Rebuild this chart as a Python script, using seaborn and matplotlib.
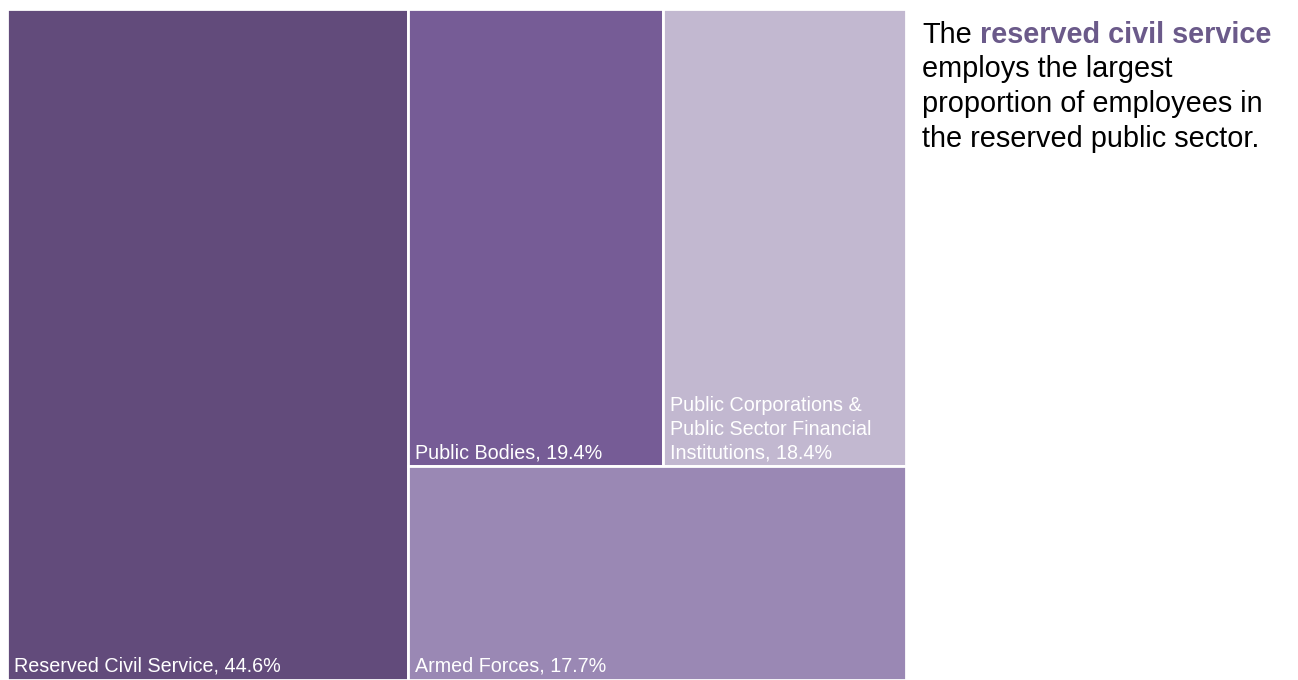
import matplotlib
matplotlib.use("Agg")
import matplotlib.pyplot as plt
import seaborn as sns

sns.set_style("white")
plt.rcParams["font.family"] = ["Liberation Sans", "DejaVu Sans"]

# Share of reserved public-sector employees (%)
categories = ["Reserved Civil Service", "Public Bodies",
              "Public Corporations &\nPublic Sector Financial\nInstitutions",
              "Armed Forces"]
shares = [44.6, 19.4, 18.4, 17.7]
colors = ["#624B7B", "#765C96", "#C2B8D0", "#9A88B4"]

fig = plt.figure(figsize=(12.98, 6.8), dpi=100)
ax = fig.add_axes([7 / 1298, 0, 899 / 1298, 671 / 680])
ax.set_xlim(0, 1)
ax.set_ylim(0, 1)
ax.axis("off")

# Treemap layout: first block takes a full-height column, the rest is
# split into a top row (two blocks side by side) and a bottom row.
total = sum(shares)
rcs, pb, pc, af = shares
w0 = rcs / total
rest = pb + pc + af
h_bottom = af / rest
top = pb + pc
w_pb = (1 - w0) * pb / top

rects = [
    (0, 0, w0, 1),
    (w0, h_bottom, w_pb, 1 - h_bottom),
    (w0 + w_pb, h_bottom, (1 - w0) - w_pb, 1 - h_bottom),
    (w0, 0, 1 - w0, h_bottom),
]

for (x, y, w, h), name, val, col in zip(rects, categories, shares, colors):
    ax.bar(x, h, width=w, bottom=y, align="edge", color=col,
           edgecolor="white", linewidth=2)
    ax.annotate(f"{name}, {val}%", xy=(x, y), xycoords="data",
                xytext=(7, 4), textcoords="offset pixels",
                ha="left", va="bottom", color="white", fontsize=14.2,
                linespacing=1.3)

# Commentary to the right of the treemap
fs = 20.8
t1 = fig.text(922 / 1298, 1 - 21 / 680, "The", fontsize=fs,
              color="black", ha="left", va="top")
ax.annotate(" reserved civil service", xy=(1, 1), xycoords=t1,
            ha="left", va="top", fontsize=fs, fontweight="bold",
            color="#6B5A8A")
fig.text(922 / 1298, 1 - 55 / 680,
         "employs the largest\nproportion of employees in\nthe reserved public sector.",
         fontsize=fs, color="black", ha="left", va="top",
         linespacing=1.31)

fig.savefig("out.png", dpi=100)
